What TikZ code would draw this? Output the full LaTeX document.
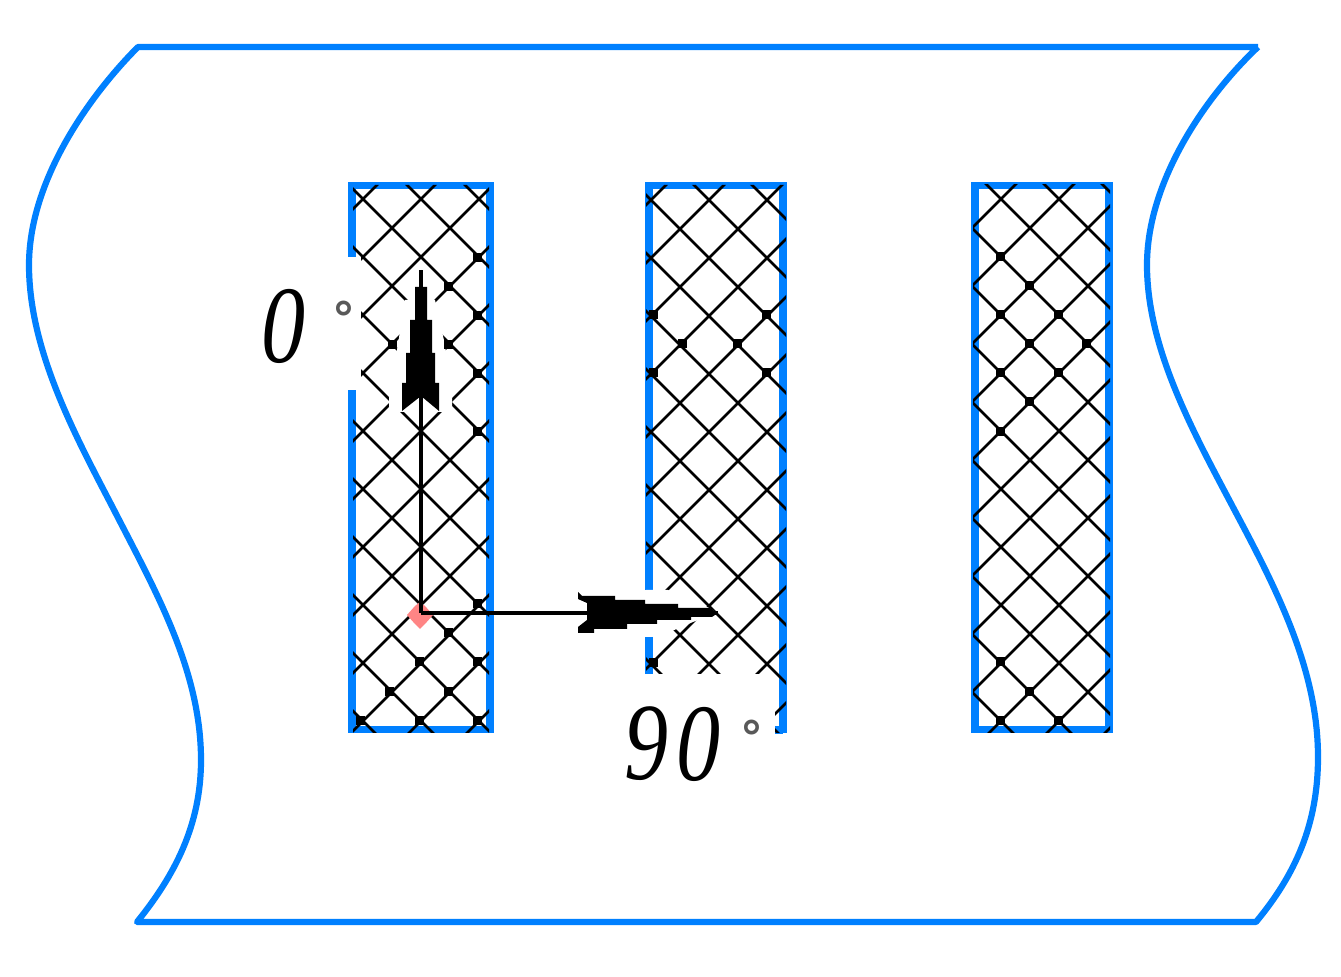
\documentclass[tikz,border=0pt]{standalone}
\usepackage{fontspec}
\setmainfont{Liberation Serif}
\newfontfamily\degfont{DejaVu Sans}
\definecolor{edgeblue}{HTML}{0080FF}
\definecolor{pinkmark}{HTML}{FF8585}
\tikzset{
  blueline/.style={draw=edgeblue,line width=3.9pt},
  outline/.style={draw=edgeblue,line width=3.1pt,line join=round},
  latline/.style={draw=black,line width=1.4pt},
  shaft/.style={draw=black,line width=2pt},
  headfill/.style={fill=black,draw=none},
  notchfill/.style={fill=white,draw=none},
  digit/.style={font=\itshape\fontsize{55}{55}\selectfont,inner sep=0pt,text=black,xscale=0.8,transform shape},
  degsign/.style={font=\degfont\bfseries\itshape\fontsize{23}{23}\selectfont,inner sep=0pt,text=black!65}
}
\newcommand{\latticeat}[2]{%
  \foreach \k in {-14,...,14}{
    \draw[latline] ({#1+58*\k-100},100) -- ({#1+58*\k-800},800);
    \draw[latline] ({#2+58*\k+100},100) -- ({#2+58*\k+800},800);
  }}
\begin{document}
\begin{tikzpicture}[x=0.5pt,y=-0.5pt]
\useasboundingbox (0,0) rectangle (1341,977);
\fill[white] (0,0) rectangle (1341,977);

% sheet outline
\draw[outline] (1258,47) -- (138,47)
  .. controls (90,95) and (29,180) .. (29,265)
  .. controls (29,350) and (75,435) .. (113,508)
  .. controls (155,590) and (201,670) .. (201,760)
  .. controls (201,825) and (175,875) .. (137,922)
  -- (1256,922)
  .. controls (1295,875) and (1318,825) .. (1318,757)
  .. controls (1318,670) and (1277,590) .. (1235,511)
  .. controls (1195,435) and (1147,350) .. (1147,265)
  .. controls (1147,180) and (1207,95) .. (1258,47);

% blue frames
\draw[blueline] (352,257) -- (352,185.5) -- (490,185.5) -- (490,729.5) -- (352,729.5) -- (352,390);
\draw[blueline] (649,590) -- (649,185.5) -- (783,185.5) -- (783,733);
\draw[blueline] (649,637) -- (649,674);
\draw[blueline] (775,730) -- (783,730);
\draw[blueline] (975,185.5) rectangle (1109,729.5);

% lattice 1
\begin{scope}
\clip (353,185) -- (489,185) -- (489,733) -- (353,733) -- (353,392) -- (361,392) -- (361,257) -- (353,257) -- cycle;
\latticeat{620}{222}
\fill[notchfill] (405,300) -- (435,300) -- (445,345) -- (452,397) -- (452,412) -- (389,412) -- (389,397) -- (397,350) -- cycle;
\end{scope}
% lattice 2
\begin{scope}
\clip (646,185) -- (786,185) -- (786,733) -- (775,733) -- (775,674) -- (646,674) -- cycle;
\latticeat{1257}{103}
\fill[notchfill] (640,590) -- (668,590) -- (700,603) -- (718,613) -- (693,622) -- (672,631) -- (640,631) -- cycle;
\end{scope}
% lattice 3
\begin{scope}
\clip (973,185) rectangle (1110,733);
\latticeat{1316}{744}
\end{scope}

% dots at lattice crossings
\foreach \p in {(477,258),(448,287),(477,316),(392,345),(448,345),(477,374),(477,432),(477,604),(448,633),(419,662),(477,662),(389,692),(448,692),(360,721),(419,721),(477,721),
  (653,315),(766,315),(682,344),(737,344),(653,373),(766,373),(653,663),
  (1000,257),(1029,286),(1000,315),(1058,315),(1029,344),(1086,344),(1000,373),(1058,373),(1029,402),(1000,432),(1000,662),(1029,692),(1000,721),(1058,721)}
  \fill \p ++(-4.5,-4.5) rectangle ++(9,9);

% origin mark
\fill[pinkmark] (420,602) -- (425,606) -- (433,615) -- (425,624) -- (420,629) -- (415,624) -- (407,615) -- (415,606) -- cycle;

% vectors
\coordinate (origin) at (421,613);
\coordinate (tipa) at (421,270);
\coordinate (tipb) at (718,613);
\draw[shaft] (origin) -- (tipa);
\draw[shaft] (origin) -- (tipb);
\fill[headfill] (tipa) -- (423,287) -- (427,287) -- (427,320) -- (432,320) -- (432,353) -- (435,353) -- (435,383) -- (439,383) -- (439,411) -- (421,396) -- (402,411) -- (402,383) -- (406,383) -- (406,353) -- (410,353) -- (410,320) -- (415,320) -- (415,287) -- (419,287) -- cycle;
\fill[headfill] (tipb) -- (710,608) -- (678,608) -- (678,604) -- (645,604) -- (645,600) -- (615,600) -- (615,596) -- (582,596) -- (578,592) -- (578,599) -- (587,603) -- (587,620) -- (578,627) -- (578,633) -- (594,633) -- (594,629) -- (627,629) -- (627,624) -- (657,624) -- (657,620) -- (691,620) -- (691,617) -- (712,617) -- cycle;

% labels
\node[digit] (zero) at (283,326) {0};
\node[degsign] (degz) at (344,318) {°};
\node[digit] (nine) at (646,744) {9};
\node[digit] (zerob) at (698,744) {0};
\node[degsign] (degn) at (752,737) {°};
\end{tikzpicture}
\end{document}
